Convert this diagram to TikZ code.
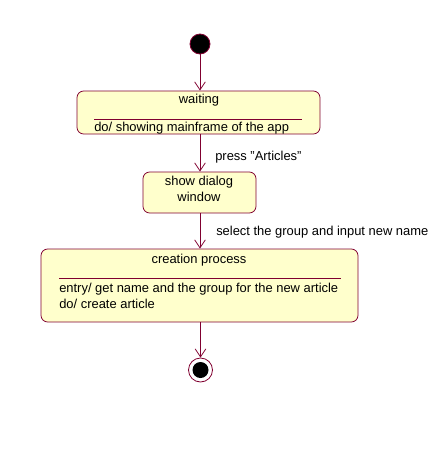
\documentclass[tikz,border=0pt]{standalone}
\usepackage{fontspec}
\setmainfont{Liberation Sans}
\usetikzlibrary{arrows.meta}
\definecolor{umlred}{RGB}{128,0,48}
\definecolor{umlfill}{RGB}{255,255,204}
\tikzset{
  state/.style={draw=umlred,fill=umlfill,rounded corners=5pt,inner sep=0pt,line width=0.6pt},
  trans/.style={umlred,line width=0.6pt,-{Straight Barb[length=6pt,width=8pt]}},
  txt/.style={inner sep=0pt,font=\fontsize{9.7}{11.5}\selectfont},
}

\begin{document}
\begin{tikzpicture}[x=0.75pt,y=-0.75pt]
\useasboundingbox (0,0) rectangle (446,461);
% start and end
\node[circle,fill=black,draw=umlred,line width=0.6pt,minimum size=15pt,inner sep=0pt] (init) at (200,44) {};
\node[circle,draw=umlred,line width=0.6pt,fill=white,minimum size=18pt,inner sep=0pt] (final) at (200.5,370) {};
\node[circle,fill=black,minimum size=12pt,inner sep=0pt] (finaldot) at (final) {};

% waiting
\node[state,minimum width=182.25pt,minimum height=32.25pt] (waiting) at (198.5,112.5) {};
\node[txt] (waitingname) at (199,100) {waiting};
\coordinate (waitingl) at (94,119);
\coordinate (waitingr) at (302,119);
\draw[umlred,line width=0.6pt] (waitingl) -- (waitingr);
\node[txt,anchor=west] (waitingdo) at (94,128) {do/ showing mainframe of the app};

% show dialog window
\node[state,minimum width=84.75pt,minimum height=30.75pt] (dialog) at (199.5,192.5) {};
\node[txt,align=center] (dialogname) at (199,189) {show dialog\\window};

% creation process
\node[state,minimum width=237.75pt,minimum height=54.75pt] (creation) at (199.5,285.5) {};
\node[txt] (creationname) at (199,260) {creation process};
\coordinate (creationl) at (59,278);
\coordinate (creationr) at (341,278);
\draw[umlred,line width=0.6pt] (creationl) -- (creationr);
\node[txt,anchor=west] (creationentry) at (59,289) {entry/ get name and the group for the new article};
\node[txt,anchor=west] (creationdo) at (59,304) {do/ create article};

% transitions
\draw[trans] (init.south) -- (init.south |- waiting.north);
\draw[trans] (init.south |- waiting.south) -- (init.south |- dialog.north);
\draw[trans] (init.south |- dialog.south) -- (init.south |- creation.north);
\draw[trans] (final.north |- creation.south) -- (final.north);
\node[txt,anchor=west] (press) at (215,157) {press \char34 Articles\char34};
\node[txt,anchor=west] (select) at (216,232) {select the group and input new name};
\end{tikzpicture}
\end{document}
